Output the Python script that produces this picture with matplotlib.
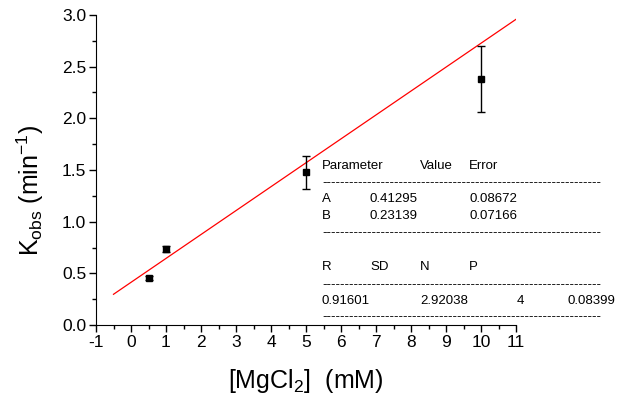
import numpy as np
import matplotlib.pyplot as plt

plt.rcParams['font.family'] = ['Liberation Sans', 'DejaVu Sans']
plt.rcParams['mathtext.default'] = 'regular'
plt.rcParams['axes.unicode_minus'] = False

# datos experimentales
mgcl2 = [0.5, 1.0, 5.0, 10.0]
kobs = [0.452, 0.739, 1.48, 2.38]
kobs_err = [0.02, 0.03, 0.16, 0.32]

# ajuste lineal y = A + B*x
A, B = 0.41295, 0.23139
x_fit = np.array([-0.5, 11.0])

col_hdr = ["Parameter", "Value", "Error"]
filas = [["A", "0.41295", "0.08672"], ["B", "0.23139", "0.07166"]]
stat_hdr = ["R", "SD", "N", "P"]
stat_val = ["0.91601", "2.92038", "4", "0.08399"]

W, H = 619, 403
fig = plt.figure(figsize=(W / 100, H / 100), dpi=100)
ax = fig.add_axes([96 / W, 1 - 325 / H, (516 - 96) / W, (325 - 15) / H])

ax.plot(x_fit, A + B * x_fit, color='red', linewidth=0.9)
ax.errorbar(mgcl2, kobs, yerr=kobs_err, fmt='s', color='black', markersize=4.8,
            ecolor='black', elinewidth=1, capsize=3, capthick=1)

ax.set_xlim(-1, 11)
ax.set_ylim(0, 3.0)
ax.set_xticks(np.arange(-1, 12, 1))
ax.set_xticks(np.arange(-0.5, 11, 1), minor=True)
ax.set_yticks(np.arange(0, 3.01, 0.5))
ax.set_yticks(np.arange(0.25, 3, 0.5), minor=True)
ax.set_yticklabels([f"{v:.1f}" for v in np.arange(0, 3.01, 0.5)])
ax.spines['top'].set_visible(False)
ax.spines['right'].set_visible(False)
ax.tick_params(which='major', direction='out', length=5, width=1, labelsize=12.5, pad=2)
ax.tick_params(which='minor', direction='out', length=3, width=1)

fig.text(30 / W, 1 - 190 / H, "K$_{obs}$ (min$^{-1}$)", rotation=90, fontsize=18,
         ha='center', va='center')
fig.text(306 / W, 1 - 381 / H, "[MgCl$_2$]  (mM)", fontsize=18, ha='center', va='center')

# tabla de resultados del ajuste
def txt(x, y, s):
    fig.text(x / W, 1 - y / H, s, fontsize=9.5, ha='left', va='center')

cols = [322, 370, 420, 469]
dashes = "-" * 62
txt(322, 165.7, col_hdr[0])
txt(420, 165.7, col_hdr[1])
txt(469, 165.7, col_hdr[2])
txt(322, 183.3, dashes)
for fila, y in zip(filas, [199.3, 216]):
    txt(322, y, fila[0])
    txt(370, y, fila[1])
    txt(469, y, fila[2])
txt(322, 233.3, dashes)
for s, x in zip(stat_hdr, cols):
    txt(x, 267.3, s)
txt(322, 285, dashes)
for s, x in zip(stat_val, [322, 420, 517, 568]):
    txt(x, 300.7, s)
txt(322, 317.3, dashes)

fig.savefig("out.png", dpi=100)
